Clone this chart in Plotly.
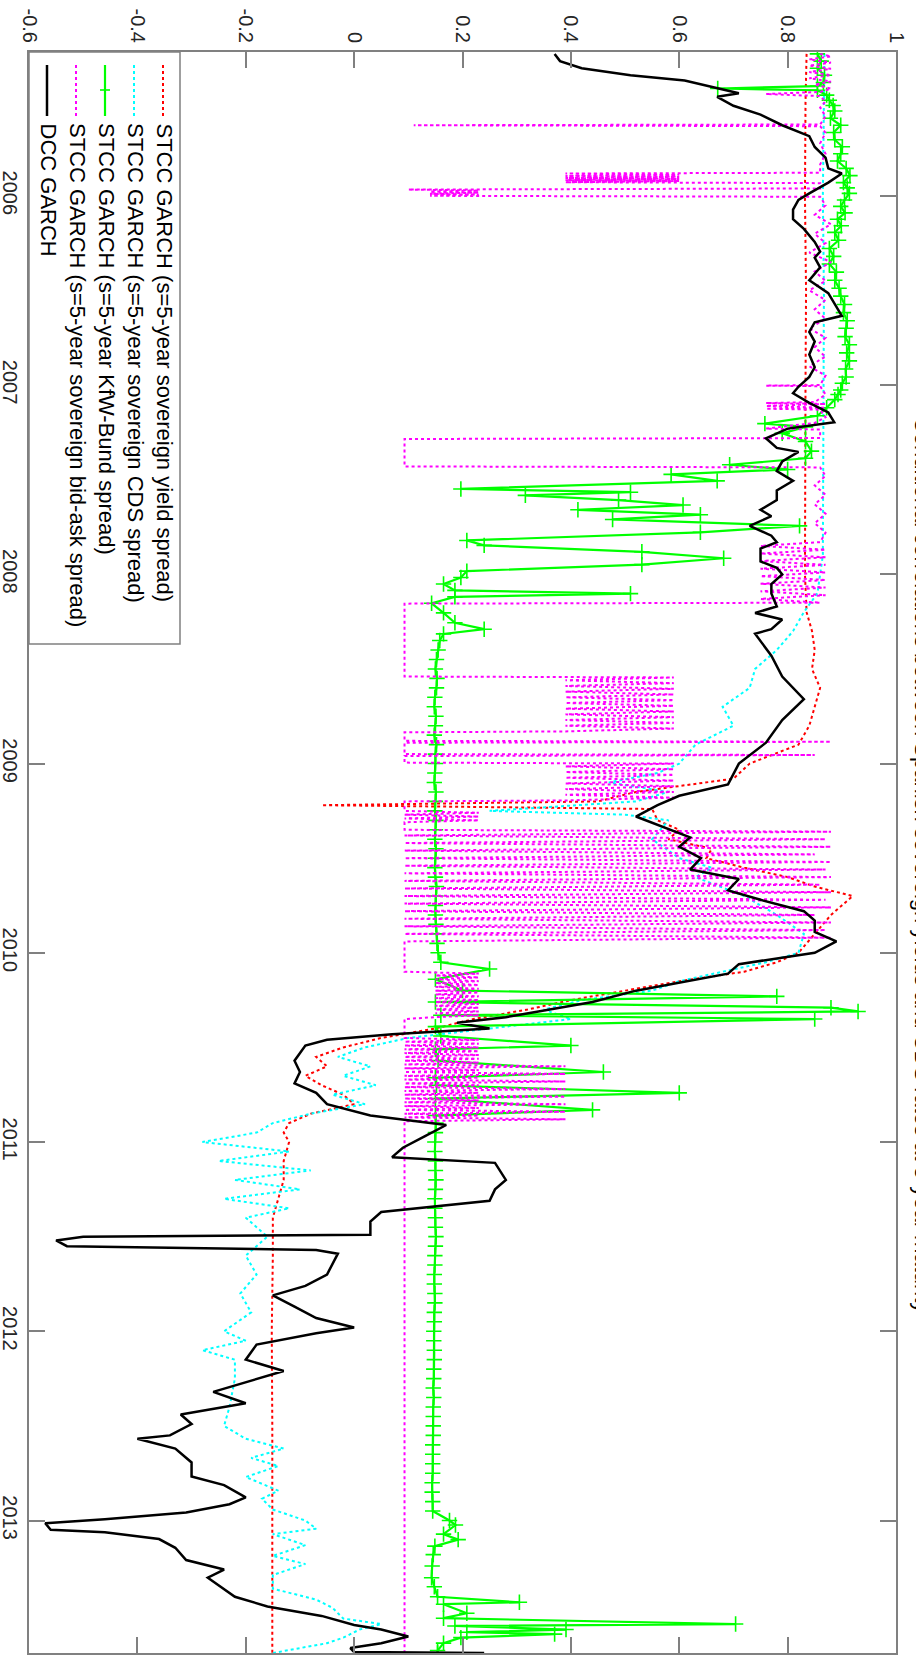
import plotly.graph_objects as go

# ---------------- data: (decimal year, conditional correlation) ----------------
yield_stcc = [
    (2005.25, 0.835), (2005.5, 0.833), (2006.0, 0.832), (2006.5, 0.834), (2007.0, 0.833),
    (2007.5, 0.833), (2008.0, 0.832), (2008.2, 0.835), (2008.3, 0.845), (2008.4, 0.85),
    (2008.5, 0.845), (2008.6, 0.86), (2008.7, 0.85), (2008.8, 0.84), (2008.9, 0.82),
    (2009.0, 0.73), (2009.08, 0.70), (2009.15, 0.52), (2009.2, 0.45), (2009.22, -0.06),
    (2009.24, 0.55), (2009.3, 0.56), (2009.35, 0.60), (2009.4, 0.58), (2009.45, 0.66),
    (2009.5, 0.65), (2009.55, 0.72), (2009.6, 0.80), (2009.65, 0.85), (2009.7, 0.92),
    (2009.75, 0.90), (2009.8, 0.88), (2009.9, 0.85), (2010.0, 0.82), (2010.05, 0.78),
    (2010.1, 0.72), (2010.15, 0.60), (2010.2, 0.50), (2010.25, 0.40), (2010.3, 0.32),
    (2010.35, 0.22), (2010.4, 0.15), (2010.45, 0.05), (2010.5, -0.02), (2010.55, -0.07),
    (2010.6, -0.05), (2010.65, -0.09), (2010.7, -0.06), (2010.75, -0.02), (2010.8, 0.0),
    (2010.85, -0.08), (2010.9, -0.12), (2010.95, -0.13), (2011.0, -0.12), (2011.1, -0.13),
    (2011.2, -0.13), (2011.3, -0.14), (2011.4, -0.15), (2011.6, -0.15), (2012.0, -0.152),
    (2012.5, -0.151), (2013.0, -0.151), (2013.70, -0.151),
]

cds_stcc = [
    (2005.25, 0.868), (2005.6, 0.866), (2006.0, 0.865), (2006.5, 0.867), (2007.0, 0.866),
    (2007.5, 0.866), (2007.9, 0.865), (2008.0, 0.86), (2008.1, 0.855), (2008.2, 0.83),
    (2008.3, 0.81), (2008.4, 0.78), (2008.5, 0.74), (2008.6, 0.73), (2008.7, 0.68),
    (2008.8, 0.70), (2008.9, 0.63), (2009.0, 0.60), (2009.05, 0.56), (2009.1, 0.47),
    (2009.15, 0.58), (2009.2, 0.52), (2009.25, 0.25), (2009.27, 0.50), (2009.3, 0.58),
    (2009.4, 0.55), (2009.5, 0.60), (2009.55, 0.66), (2009.6, 0.63), (2009.7, 0.72),
    (2009.8, 0.78), (2009.9, 0.83), (2010.0, 0.82), (2010.05, 0.76), (2010.1, 0.68),
    (2010.15, 0.60), (2010.2, 0.55), (2010.25, 0.42), (2010.3, 0.35), (2010.35, 0.40),
    (2010.4, 0.25), (2010.45, 0.10), (2010.5, 0.02), (2010.55, -0.03), (2010.6, 0.03),
    (2010.65, -0.02), (2010.7, 0.04), (2010.75, -0.04), (2010.8, 0.02), (2010.85, -0.08),
    (2010.9, -0.15), (2010.95, -0.18), (2011.0, -0.28), (2011.05, -0.12), (2011.1, -0.25),
    (2011.15, -0.08), (2011.2, -0.22), (2011.25, -0.10), (2011.3, -0.24), (2011.35, -0.12),
    (2011.4, -0.20), (2011.5, -0.16), (2011.6, -0.20), (2011.7, -0.18), (2011.8, -0.21),
    (2011.9, -0.19), (2012.0, -0.24), (2012.05, -0.20), (2012.1, -0.28), (2012.15, -0.22),
    (2012.25, -0.22), (2012.4, -0.23), (2012.5, -0.24), (2012.568, -0.20), (2012.620, -0.13),
    (2012.669, -0.19), (2012.712, -0.14), (2012.770, -0.20), (2012.842, -0.14), (2012.885, -0.17),
    (2012.942, -0.15), (2013.0, -0.09), (2013.043, -0.07), (2013.072, -0.15), (2013.130, -0.09),
    (2013.187, -0.15), (2013.230, -0.09), (2013.288, -0.15), (2013.36, -0.15), (2013.418, -0.07),
    (2013.461, -0.04), (2013.518, -0.02), (2013.547, 0.05), (2013.576, 0.01), (2013.619, -0.02),
    (2013.648, -0.05), (2013.70, -0.15),
]

kfw_stcc = [
    (2005.250, 0.855), (2005.288, 0.862), (2005.326, 0.855), (2005.363, 0.868), (2005.401, 0.866),
    (2005.420, 0.855), (2005.433, 0.671), (2005.442, 0.855), (2005.468, 0.872), (2005.495, 0.877),
    (2005.523, 0.884), (2005.552, 0.887), (2005.590, 0.879), (2005.627, 0.898), (2005.665, 0.885),
    (2005.704, 0.887), (2005.741, 0.901), (2005.778, 0.898), (2005.816, 0.892), (2005.855, 0.908),
    (2005.893, 0.915), (2005.930, 0.903), (2005.958, 0.910), (2005.987, 0.914), (2006.022, 0.905),
    (2006.056, 0.898), (2006.090, 0.906), (2006.124, 0.892), (2006.158, 0.899), (2006.193, 0.887),
    (2006.235, 0.894), (2006.278, 0.877), (2006.320, 0.885), (2006.360, 0.877), (2006.403, 0.890),
    (2006.446, 0.887), (2006.488, 0.895), (2006.530, 0.898), (2006.574, 0.905), (2006.617, 0.903),
    (2006.660, 0.910), (2006.700, 0.908), (2006.744, 0.906), (2006.787, 0.914), (2006.830, 0.909),
    (2006.872, 0.914), (2006.915, 0.907), (2006.957, 0.908), (2006.990, 0.901), (2007.026, 0.898),
    (2007.050, 0.893), (2007.077, 0.887), (2007.120, 0.872), (2007.162, 0.855), (2007.204, 0.758),
    (2007.221, 0.833), (2007.255, 0.79), (2007.298, 0.833), (2007.349, 0.844), (2007.387, 0.833),
    (2007.421, 0.693), (2007.446, 0.80), (2007.472, 0.585), (2007.506, 0.67), (2007.549, 0.197),
    (2007.566, 0.51), (2007.583, 0.316), (2007.608, 0.488), (2007.634, 0.607), (2007.659, 0.413),
    (2007.685, 0.639), (2007.71, 0.477), (2007.744, 0.822), (2007.778, 0.639), (2007.821, 0.208),
    (2007.847, 0.24), (2007.881, 0.531), (2007.915, 0.682), (2007.949, 0.531), (2007.983, 0.208),
    (2008.017, 0.197), (2008.051, 0.165), (2008.085, 0.186), (2008.102, 0.51), (2008.119, 0.186),
    (2008.153, 0.143), (2008.204, 0.165), (2008.256, 0.186), (2008.29, 0.24), (2008.315, 0.165),
    (2008.35, 0.158), (2008.40, 0.155), (2008.45, 0.152), (2008.50, 0.150), (2008.55, 0.153),
    (2008.60, 0.152), (2008.65, 0.149), (2008.70, 0.148), (2008.75, 0.151), (2008.80, 0.150),
    (2008.85, 0.148), (2008.90, 0.152), (2008.95, 0.150), (2009.00, 0.150), (2009.05, 0.149),
    (2009.10, 0.148), (2009.15, 0.151), (2009.20, 0.150), (2009.25, 0.149), (2009.30, 0.151),
    (2009.35, 0.150), (2009.40, 0.149), (2009.45, 0.151), (2009.50, 0.150), (2009.55, 0.149),
    (2009.60, 0.150), (2009.65, 0.152), (2009.70, 0.151), (2009.75, 0.150), (2009.80, 0.150),
    (2009.85, 0.151), (2009.90, 0.152), (2009.95, 0.153), (2010.00, 0.155), (2010.05, 0.160),
    (2010.086, 0.25), (2010.14, 0.15), (2010.20, 0.20), (2010.23, 0.78), (2010.26, 0.15),
    (2010.29, 0.88), (2010.31, 0.93), (2010.33, 0.16), (2010.35, 0.85), (2010.39, 0.15),
    (2010.44, 0.16), (2010.49, 0.40), (2010.51, 0.15), (2010.57, 0.155), (2010.63, 0.46),
    (2010.66, 0.15), (2010.70, 0.152), (2010.74, 0.60), (2010.77, 0.15), (2010.83, 0.44),
    (2010.86, 0.15), (2010.90, 0.151), (2010.95, 0.150), (2011.00, 0.149), (2011.05, 0.149),
    (2011.10, 0.150), (2011.15, 0.150), (2011.20, 0.151), (2011.25, 0.150), (2011.30, 0.149),
    (2011.35, 0.149), (2011.40, 0.150), (2011.45, 0.150), (2011.50, 0.151), (2011.55, 0.150),
    (2011.60, 0.149), (2011.65, 0.149), (2011.70, 0.148), (2011.75, 0.148), (2011.80, 0.149),
    (2011.85, 0.149), (2011.90, 0.148), (2011.95, 0.148), (2012.00, 0.147), (2012.05, 0.147),
    (2012.10, 0.148), (2012.15, 0.148), (2012.20, 0.147), (2012.25, 0.147), (2012.30, 0.146),
    (2012.35, 0.147), (2012.40, 0.146), (2012.45, 0.146), (2012.50, 0.146), (2012.55, 0.146),
    (2012.60, 0.145), (2012.65, 0.145), (2012.70, 0.145), (2012.75, 0.145), (2012.80, 0.144),
    (2012.85, 0.144), (2012.90, 0.145), (2012.95, 0.145), (2013.000, 0.176), (2013.024, 0.187),
    (2013.072, 0.165), (2013.101, 0.192), (2013.135, 0.149), (2013.18, 0.146), (2013.24, 0.144),
    (2013.302, 0.143), (2013.35, 0.148), (2013.403, 0.154), (2013.432, 0.305), (2013.442, 0.165),
    (2013.490, 0.208), (2013.516, 0.165), (2013.547, 0.704), (2013.557, 0.186), (2013.576, 0.391),
    (2013.590, 0.208), (2013.600, 0.37), (2013.619, 0.197), (2013.648, 0.165), (2013.687, 0.154),
    (2013.700, 0.154),
]

bidask_stcc = [
    (2005.250, 0.86), (2005.263, 0.88), (2005.279, 0.84), (2005.296, 0.88), (2005.312, 0.84),
    (2005.329, 0.88), (2005.346, 0.84), (2005.362, 0.88), (2005.379, 0.84), (2005.396, 0.88),
    (2005.412, 0.85), (2005.434, 0.88), (2005.451, 0.86), (2005.462, 0.76), (2005.473, 0.86),
    (2005.501, 0.87), (2005.534, 0.86), (2005.579, 0.87), (2005.623, 0.86), (2005.627, 0.11),
    (2005.632, 0.86), (2005.667, 0.87), (2005.723, 0.86), (2005.778, 0.87), (2005.834, 0.86),
    (2005.878, 0.86), (2005.882, 0.39), (2005.889, 0.60), (2005.895, 0.39), (2005.900, 0.60),
    (2005.906, 0.39), (2005.911, 0.60), (2005.917, 0.39), (2005.922, 0.60), (2005.928, 0.39),
    (2005.933, 0.86), (2005.961, 0.86), (2005.967, 0.10), (2005.972, 0.23), (2005.978, 0.14),
    (2005.983, 0.23), (2005.989, 0.14), (2005.994, 0.23), (2006.000, 0.14), (2006.005, 0.86),
    (2006.05, 0.87), (2006.10, 0.85), (2006.15, 0.88), (2006.20, 0.85), (2006.25, 0.87),
    (2006.30, 0.84), (2006.35, 0.88), (2006.40, 0.85), (2006.45, 0.87), (2006.50, 0.84),
    (2006.55, 0.87), (2006.60, 0.85), (2006.65, 0.87), (2006.70, 0.84), (2006.75, 0.87),
    (2006.80, 0.85), (2006.85, 0.87), (2006.90, 0.84), (2006.95, 0.87), (2007.000, 0.86),
    (2007.003, 0.76), (2007.006, 0.86), (2007.05, 0.87), (2007.09, 0.85), (2007.095, 0.76),
    (2007.10, 0.87), (2007.11, 0.76), (2007.12, 0.87), (2007.125, 0.76), (2007.13, 0.86),
    (2007.17, 0.87), (2007.20, 0.85), (2007.23, 0.76), (2007.235, 0.86), (2007.28, 0.86),
    (2007.285, 0.093), (2007.43, 0.093), (2007.435, 0.86), (2007.48, 0.87), (2007.53, 0.85),
    (2007.58, 0.87), (2007.63, 0.85), (2007.68, 0.87), (2007.73, 0.85), (2007.78, 0.87),
    (2007.83, 0.86), (2007.85, 0.75), (2007.87, 0.87), (2007.89, 0.75), (2007.91, 0.87),
    (2007.93, 0.75), (2007.95, 0.87), (2007.97, 0.75), (2007.99, 0.87), (2008.01, 0.75),
    (2008.03, 0.87), (2008.05, 0.75), (2008.07, 0.87), (2008.09, 0.75), (2008.11, 0.87),
    (2008.13, 0.75), (2008.15, 0.86), (2008.155, 0.093), (2008.54, 0.093), (2008.545, 0.59),
    (2008.56, 0.39), (2008.575, 0.59), (2008.59, 0.39), (2008.605, 0.59), (2008.62, 0.39),
    (2008.635, 0.59), (2008.65, 0.39), (2008.665, 0.59), (2008.68, 0.39), (2008.695, 0.59),
    (2008.71, 0.39), (2008.725, 0.59), (2008.74, 0.39), (2008.755, 0.59), (2008.77, 0.39),
    (2008.785, 0.59), (2008.80, 0.39), (2008.815, 0.59), (2008.83, 0.39), (2008.835, 0.093),
    (2008.88, 0.093), (2008.885, 0.88), (2008.89, 0.093), (2008.95, 0.093), (2008.955, 0.85),
    (2008.96, 0.093), (2008.995, 0.093), (2009.000, 0.59), (2009.015, 0.39), (2009.030, 0.59),
    (2009.045, 0.39), (2009.060, 0.59), (2009.075, 0.39), (2009.090, 0.59), (2009.105, 0.39),
    (2009.120, 0.59), (2009.135, 0.39), (2009.150, 0.59), (2009.165, 0.39), (2009.180, 0.59),
    (2009.195, 0.39), (2009.200, 0.093), (2009.25, 0.093), (2009.26, 0.23), (2009.27, 0.093),
    (2009.28, 0.23), (2009.29, 0.093), (2009.30, 0.23), (2009.31, 0.093), (2009.35, 0.093),
    (2009.36, 0.88), (2009.38, 0.093), (2009.40, 0.87), (2009.42, 0.093), (2009.44, 0.88),
    (2009.46, 0.093), (2009.48, 0.85), (2009.50, 0.093), (2009.52, 0.88), (2009.54, 0.093),
    (2009.56, 0.87), (2009.58, 0.093), (2009.60, 0.88), (2009.62, 0.093), (2009.64, 0.86),
    (2009.66, 0.093), (2009.68, 0.88), (2009.70, 0.093), (2009.72, 0.87), (2009.74, 0.093),
    (2009.76, 0.88), (2009.78, 0.093), (2009.80, 0.85), (2009.82, 0.093), (2009.84, 0.88),
    (2009.86, 0.093), (2009.88, 0.87), (2009.90, 0.093), (2009.92, 0.88), (2009.94, 0.093),
    (2010.10, 0.093), (2010.11, 0.23), (2010.12, 0.15), (2010.13, 0.23), (2010.14, 0.15),
    (2010.15, 0.23), (2010.16, 0.15), (2010.17, 0.23), (2010.18, 0.15), (2010.19, 0.23),
    (2010.20, 0.15), (2010.21, 0.23), (2010.22, 0.15), (2010.23, 0.23), (2010.24, 0.15),
    (2010.25, 0.23), (2010.26, 0.15), (2010.27, 0.23), (2010.28, 0.15), (2010.29, 0.23),
    (2010.30, 0.15), (2010.31, 0.23), (2010.32, 0.15), (2010.33, 0.23), (2010.34, 0.15),
    (2010.35, 0.093), (2010.45, 0.093), (2010.46, 0.23), (2010.47, 0.093), (2010.48, 0.23),
    (2010.49, 0.093), (2010.50, 0.23), (2010.51, 0.093), (2010.52, 0.23), (2010.53, 0.093),
    (2010.54, 0.23), (2010.55, 0.093), (2010.56, 0.23), (2010.57, 0.093), (2010.58, 0.23),
    (2010.59, 0.093), (2010.60, 0.39), (2010.61, 0.093), (2010.62, 0.23), (2010.63, 0.093),
    (2010.64, 0.39), (2010.65, 0.093), (2010.66, 0.23), (2010.67, 0.093), (2010.68, 0.39),
    (2010.69, 0.093), (2010.70, 0.23), (2010.71, 0.093), (2010.72, 0.39), (2010.73, 0.093),
    (2010.74, 0.23), (2010.75, 0.093), (2010.76, 0.39), (2010.77, 0.093), (2010.78, 0.23),
    (2010.79, 0.093), (2010.80, 0.39), (2010.81, 0.093), (2010.82, 0.23), (2010.83, 0.093),
    (2010.84, 0.39), (2010.85, 0.093), (2010.86, 0.23), (2010.87, 0.093), (2010.88, 0.39),
    (2010.89, 0.093), (2011.5, 0.093), (2012.5, 0.093), (2013.70, 0.093),
]

dcc_garch = [
    (2005.250, 0.37), (2005.288, 0.38), (2005.326, 0.42), (2005.363, 0.51), (2005.391, 0.61),
    (2005.410, 0.64), (2005.430, 0.67), (2005.458, 0.71), (2005.477, 0.67), (2005.524, 0.70),
    (2005.571, 0.75), (2005.627, 0.79), (2005.685, 0.84), (2005.742, 0.85), (2005.798, 0.87),
    (2005.855, 0.875), (2005.882, 0.90), (2005.930, 0.875), (2005.987, 0.84), (2006.022, 0.82),
    (2006.073, 0.81), (2006.124, 0.81), (2006.175, 0.83), (2006.244, 0.85), (2006.295, 0.86),
    (2006.327, 0.85), (2006.378, 0.86), (2006.446, 0.84), (2006.514, 0.875), (2006.566, 0.886),
    (2006.634, 0.90), (2006.668, 0.85), (2006.719, 0.84), (2006.770, 0.85), (2006.838, 0.84),
    (2006.906, 0.85), (2006.957, 0.84), (2007.009, 0.82), (2007.043, 0.81), (2007.094, 0.84),
    (2007.145, 0.875), (2007.196, 0.886), (2007.230, 0.80), (2007.281, 0.76), (2007.332, 0.78),
    (2007.353, 0.82), (2007.404, 0.79), (2007.455, 0.78), (2007.506, 0.81), (2007.557, 0.78),
    (2007.608, 0.78), (2007.659, 0.75), (2007.693, 0.77), (2007.744, 0.73), (2007.796, 0.77),
    (2007.830, 0.78), (2007.864, 0.75), (2007.932, 0.75), (2007.966, 0.78), (2008.000, 0.79),
    (2008.051, 0.77), (2008.102, 0.77), (2008.170, 0.78), (2008.204, 0.74), (2008.239, 0.79),
    (2008.290, 0.77), (2008.314, 0.74), (2008.43, 0.77), (2008.54, 0.79), (2008.66, 0.83),
    (2008.77, 0.79), (2008.89, 0.76), (2009.00, 0.71), (2009.11, 0.69), (2009.17, 0.60),
    (2009.22, 0.56), (2009.28, 0.52), (2009.39, 0.62), (2009.44, 0.60), (2009.50, 0.64),
    (2009.56, 0.62), (2009.61, 0.71), (2009.67, 0.69), (2009.72, 0.75), (2009.78, 0.83),
    (2009.83, 0.85), (2009.89, 0.85), (2009.94, 0.89), (2010.00, 0.85), (2010.06, 0.71),
    (2010.11, 0.69), (2010.20, 0.52), (2010.26, 0.44), (2010.31, 0.34), (2010.34, 0.28),
    (2010.37, 0.19), (2010.40, 0.25), (2010.43, 0.07), (2010.46, -0.05), (2010.49, -0.09),
    (2010.57, -0.11), (2010.63, -0.10), (2010.69, -0.11), (2010.74, -0.07), (2010.80, -0.05),
    (2010.86, 0.03), (2010.91, 0.17), (2010.97, 0.13), (2011.03, 0.09), (2011.08, 0.07),
    (2011.11, 0.26), (2011.20, 0.28), (2011.25, 0.26), (2011.31, 0.25), (2011.37, 0.05),
    (2011.42, 0.03), (2011.49, 0.03), (2011.50, -0.50), (2011.52, -0.55), (2011.55, -0.53),
    (2011.57, -0.07), (2011.59, -0.03), (2011.70, -0.05), (2011.76, -0.09), (2011.81, -0.15),
    (2011.87, -0.11), (2011.93, -0.07), (2011.98, 0.00), (2012.01, -0.07), (2012.07, -0.18),
    (2012.15, -0.20), (2012.21, -0.13), (2012.27, -0.20), (2012.32, -0.26), (2012.38, -0.20),
    (2012.44, -0.32), (2012.49, -0.30), (2012.55, -0.34), (2012.568, -0.40), (2012.620, -0.33),
    (2012.693, -0.30), (2012.767, -0.30), (2012.813, -0.24), (2012.878, -0.20), (2012.914, -0.23),
    (2012.957, -0.31), (2012.993, -0.46), (2013.014, -0.57), (2013.049, -0.56), (2013.062, -0.46),
    (2013.098, -0.36), (2013.144, -0.33), (2013.209, -0.31), (2013.259, -0.24), (2013.302, -0.27),
    (2013.360, -0.24), (2013.403, -0.22), (2013.454, -0.16), (2013.504, -0.06), (2013.552, 0.00),
    (2013.576, 0.05), (2013.613, 0.10), (2013.648, 0.05), (2013.674, -0.007), (2013.695, 0.00),
    (2013.700, 0.24),
]

series_names = [
    "STCC GARCH (s=5-year sovereign yield spread)",
    "STCC GARCH (s=5-year sovereign CDS spread)",
    "STCC GARCH (s=5-year KfW-Bund spread)",
    "STCC GARCH (s=5-year sovereign bid-ask spread)",
    "DCC GARCH",
]
year_ticks = [2006, 2007, 2008, 2009, 2010, 2011, 2012, 2013]
year_labels = ["2006", "2007", "2008", "2009", "2010", "2011", "2012", "2013"]
value_ticks = [-0.6, -0.4, -0.2, 0, 0.2, 0.4, 0.6, 0.8, 1]
value_labels = ["-0.6", "-0.4", "-0.2", "0", "0.2", "0.4", "0.6", "0.8", "1"]
title_text = "Conditional correlations between Spanish sovereign yields and CDS rates at 5-year maturity"
date_range = [2013.70, 2005.24]   # reversed: earliest date at the top

# ---------------- layout geometry (pixels) ----------------
W, H = 916, 1659
L, R, T, B = 29, 20, 52, 6
PW, PH = W - L - R, H - T - B
FONT = "Liberation Sans, Arial, Helvetica, sans-serif"
AXC = "#808080"


def px_x(px):
    return (px - L) / PW


def px_y(py):
    return (H - B - py) / PH


styles = [
    dict(color="#ff0000", width=2, dash="dot"),
    dict(color="#00ffff", width=2, dash="dot"),
    dict(color="#00ff00", width=2.2, dash="solid"),
    dict(color="#ff00ff", width=2, dash="dot"),
    dict(color="#000000", width=2.5, dash="solid"),
]
datasets = [yield_stcc, cds_stcc, kfw_stcc, bidask_stcc, dcc_garch]

fig = go.Figure()
for name, data, st in zip(series_names, datasets, styles):
    t = [p[0] for p in data]
    v = [p[1] for p in data]
    if st["color"] == "#00ff00":
        fig.add_trace(go.Scatter(
            x=v, y=t, name=name, mode="lines+markers", showlegend=False,
            line=dict(color=st["color"], width=st["width"]),
            marker=dict(symbol="cross-thin", size=11,
                        line=dict(color=st["color"], width=1.6)),
        ))
    else:
        fig.add_trace(go.Scatter(
            x=v, y=t, name=name, mode="lines", showlegend=False,
            line=dict(color=st["color"], width=st["width"], dash=st["dash"]),
        ))

# ---------------- manual (rotated) legend ----------------
shapes = [dict(type="rect", xref="paper", yref="paper",
               x0=px_x(29), x1=px_x(180), y0=px_y(644), y1=px_y(52),
               line=dict(color=AXC, width=1.5), fillcolor="white", layer="above")]
annotations = []
legend_cols = [163, 134, 105, 76, 47]
for name, st, cx in zip(series_names, styles, legend_cols):
    shapes.append(dict(type="line", xref="paper", yref="paper",
                       x0=px_x(cx), x1=px_x(cx), y0=px_y(65), y1=px_y(116),
                       line=dict(color=st["color"], width=st["width"], dash=st["dash"]),
                       layer="above"))
    annotations.append(dict(xref="paper", yref="paper", x=px_x(cx + 1), y=px_y(121),
                            text=name, textangle=90, showarrow=False,
                            xanchor="center", yanchor="top",
                            font=dict(family=FONT, size=22, color="#000000")))
# '+' marker on the KfW-Bund legend sample
shapes.append(dict(type="line", xref="paper", yref="paper",
                   x0=px_x(100), x1=px_x(110), y0=px_y(90), y1=px_y(90),
                   line=dict(color="#00ff00", width=1.6), layer="above"))
shapes.append(dict(type="line", xref="paper", yref="paper",
                   x0=px_x(105), x1=px_x(105), y0=px_y(85), y1=px_y(95),
                   line=dict(color="#00ff00", width=1.6), layer="above"))

# title (rotated, partly cut at the right border as in the reference)
annotations.append(dict(xref="paper", yref="paper", x=px_x(922), y=px_y(865),
                        text=title_text, textangle=90, showarrow=False,
                        xanchor="center", yanchor="middle",
                        font=dict(family=FONT, size=22, color="#000000")))

fig.update_layout(
    width=W, height=H,
    margin=dict(l=L, r=R, t=T, b=B, pad=0, autoexpand=False),
    paper_bgcolor="white", plot_bgcolor="white",
    font=dict(family=FONT, size=20, color="#262626"),
    shapes=shapes, annotations=annotations, showlegend=False,
    xaxis=dict(range=[-0.6, 1], side="top", tickmode="array",
               tickvals=value_ticks, ticktext=value_labels, tickangle=90,
               ticks="inside", ticklen=16, tickwidth=1.5, tickcolor=AXC,
               showline=True, linecolor=AXC, linewidth=2, mirror="ticks",
               showgrid=False, zeroline=False, fixedrange=True, automargin=False),
    yaxis=dict(range=date_range, tickmode="array",
               tickvals=year_ticks, ticktext=year_labels, tickangle=90,
               ticks="inside", ticklen=16, tickwidth=1.5, tickcolor=AXC,
               showline=True, linecolor=AXC, linewidth=2, mirror="ticks",
               showgrid=False, zeroline=False, ticklabelstandoff=0,
               fixedrange=True, automargin=False),
)

fig.write_html("out.html", config={"displayModeBar": False},
               post_script="document.body.style.margin='0';document.body.style.overflow='hidden';")
